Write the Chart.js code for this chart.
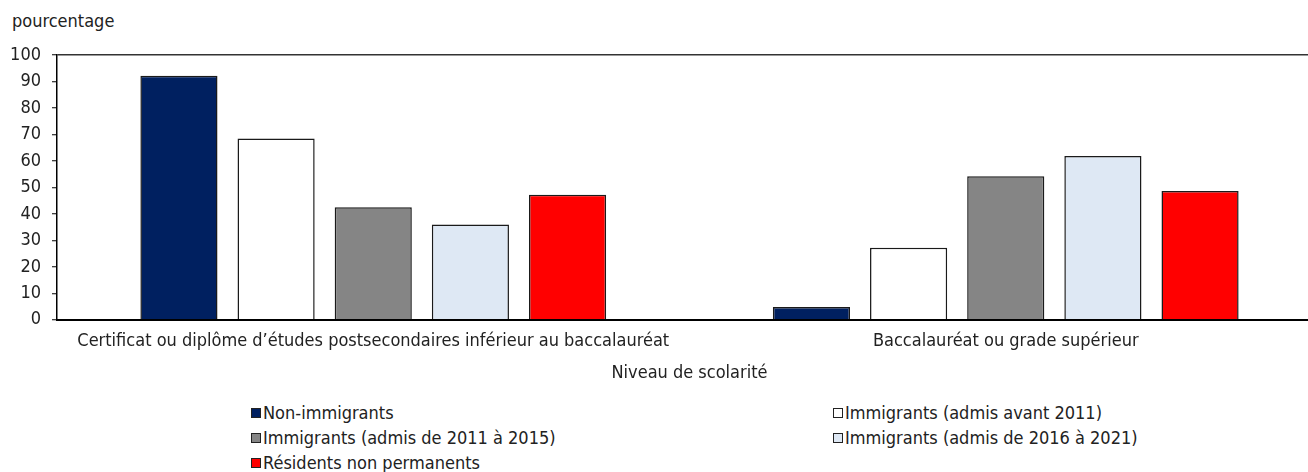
<!DOCTYPE html>
<html lang="fr">
<head>
<meta charset="utf-8">
<script src="https://cdn.jsdelivr.net/npm/chart.js@4"></script>
<style>
  body { margin: 0; background: #fff; overflow: hidden; width: 1308px; height: 472px; position: relative;
         font-family: "DejaVu Sans Condensed", "Liberation Sans Narrow", sans-serif; color: #222; }
  #ytitle { position: absolute; left: 12px; top: 10px; font-size: 18px; }
  #wrap { position: absolute; left: 0; top: 0; width: 1322px; height: 384px; }
  #legend { position: absolute; left: 0; top: 0; font-size: 18px; }
  .item { position: absolute; white-space: nowrap; line-height: 20px; }
  .box { display: inline-block; width: 8px; height: 8px; border: 1px solid #222; margin-right: 2px; vertical-align: 1px; }
</style>
</head>
<body>
<div id="ytitle">pourcentage</div>
<div id="wrap"><canvas id="chart"></canvas></div>
<div id="legend"></div>
<script>
// Diplômes par statut d'immigrant, en pourcentage

const categories = [
  'Certificat ou diplôme d\u2019études postsecondaires inférieur au baccalauréat',
  'Baccalauréat ou grade supérieur'
];

const seriesNames = [
  'Non-immigrants',
  'Immigrants (admis avant 2011)',
  'Immigrants (admis de 2011 à 2015)',
  'Immigrants (admis de 2016 à 2021)',
  'Résidents non permanents'
];

const nonImmigrants   = [92.2, 4.8];
const avant2011       = [68.5, 27.2];
const admis2011a2015  = [42.5, 54.2];
const admis2016a2021  = [36.0, 61.9];
const nonPermanents   = [47.2, 48.6];

const yTicks = [0, 10, 20, 30, 40, 50, 60, 70, 80, 90, 100];

const seriesValues = [nonImmigrants, avant2011, admis2011a2015, admis2016a2021, nonPermanents];
const seriesColors = ['#002060', '#ffffff', '#858585', '#dee8f4', '#ff0000'];

const FONT = "'DejaVu Sans Condensed', 'Liberation Sans Narrow', sans-serif";
Chart.defaults.font.family = FONT;
Chart.defaults.color = '#222';

const datasets = seriesNames.map((name, i) => ({
  label: name,
  data: seriesValues[i],
  backgroundColor: seriesColors[i],
  borderColor: '#1a1a1a',
  borderWidth: 1.5,
  categoryPercentage: 0.768,
  barPercentage: 0.794,
}));

new Chart(document.getElementById('chart').getContext('2d'), {
  type: 'bar',
  data: { labels: categories, datasets },
  options: {
    responsive: true,
    maintainAspectRatio: false,
    animation: false,
    layout: { padding: { top: 55, left: 0, right: 0, bottom: 0 } },
    plugins: {
      legend: { display: false },
      tooltip: { enabled: false },
      title: { display: false }
    },
    scales: {
      x: {
        grid: { display: false },
        border: { display: true, color: '#000', width: 2 },
        ticks: { font: { size: 18 }, color: '#222', maxRotation: 0, autoSkip: false, padding: 3 },
        title: {
          display: true,
          text: 'Niveau de scolarité',
          font: { size: 18 },
          color: '#222',
          padding: { top: 7, bottom: 0 }
        }
      },
      y: {
        min: 0,
        max: 100,
        afterBuildTicks: s => { s.ticks = yTicks.map(v => ({ value: v })); },
        afterFit: s => { s.width = 57; },
        grid: {
          color: c => (c.tick && c.tick.value === 100 ? '#333' : 'rgba(0,0,0,0)'),
          lineWidth: 1.5,
          tickColor: '#000',
          tickLength: 5,
          tickWidth: 1
        },
        border: { display: true, color: '#000', width: 1.5 },
        ticks: { font: { size: 18 }, color: '#222', padding: 11 }
      }
    }
  }
});

// legend in two columns, same order as the datasets
const legend = document.getElementById('legend');
const colX = [251, 833];
const rowY = [403, 428, 453];
seriesNames.forEach((name, i) => {
  const el = document.createElement('div');
  el.className = 'item';
  el.style.left = colX[i % 2] + 'px';
  el.style.top = rowY[Math.floor(i / 2)] + 'px';
  el.innerHTML = '<span class="box" style="background:' + seriesColors[i] + '"></span>' + name;
  legend.appendChild(el);
});
</script>
</body>
</html>
